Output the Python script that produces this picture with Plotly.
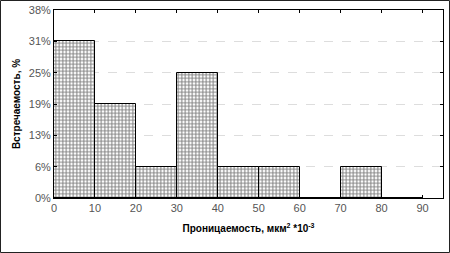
import plotly.graph_objects as go

bin_left = [0, 10, 20, 30, 40, 50, 60, 70, 80]
freq_pct = [31.25, 18.75, 6.25, 25.0, 6.25, 6.25, 0.0, 6.25, 0.0]
y_tick_vals = [0, 6.25, 12.5, 18.75, 25.0, 31.25, 37.5]
y_tick_text = ["0%", "6%", "13%", "19%", "25%", "31%", "38%"]
x_tick_vals = [0, 10, 20, 30, 40, 50, 60, 70, 80, 90]

centers = [b + 5 for b in bin_left]

fig = go.Figure(go.Bar(
    x=centers, y=freq_pct, width=10,
    marker=dict(color="white", line=dict(color="black", width=1),
                pattern=dict(shape="+", fgcolor="black", bgcolor="white",
                             size=3.5, solidity=0.5, fillmode="overlay")),
))

W, H = 450, 253
ml, mr, mt, mb = 54, 7, 10, 55
fig.update_layout(
    width=W, height=H, margin=dict(l=ml, r=mr, t=mt, b=mb),
    paper_bgcolor="white", plot_bgcolor="white", showlegend=False,
    bargap=0,
    font=dict(family="Liberation Sans, Arial", size=11, color="#555"),
    xaxis=dict(range=[0, 95], tickvals=x_tick_vals, showgrid=False, zeroline=False,
               automargin=False,
               showline=True, linecolor="black", linewidth=1, mirror="ticks",
               ticks="inside", ticklen=3, tickcolor="black",
               title=dict(text="<b>Проницаемость, мкм<sup>2</sup> *10<sup>-3</sup></b>",
                          font=dict(size=10, color="black"), standoff=11)),
    yaxis=dict(range=[0, 37.5], tickvals=y_tick_vals, ticktext=y_tick_text,
               automargin=False,
               showgrid=True, gridcolor="#dddddd", griddash="dash", gridwidth=1,
               zeroline=False, showline=True, linecolor="black", linewidth=1,
               mirror="ticks", ticks="inside", ticklen=3, tickcolor="black",
               title=dict(text="<b>Встречаемость, %</b>",
                          font=dict(size=10, color="black"), standoff=6)),
)

pw = W - ml - mr
ph = H - mt - mb
fig.add_shape(type="rect", xref="paper", yref="paper",
              x0=-(ml - 0.5) / pw, x1=1 + (mr - 0.5) / pw,
              y0=-(mb - 0.5) / ph, y1=1 + (mt - 0.5) / ph,
              line=dict(color="#222", width=1), layer="above")

fig.write_html("out.html", config={"displayModeBar": False},
               post_script="document.body.style.margin='0';")
